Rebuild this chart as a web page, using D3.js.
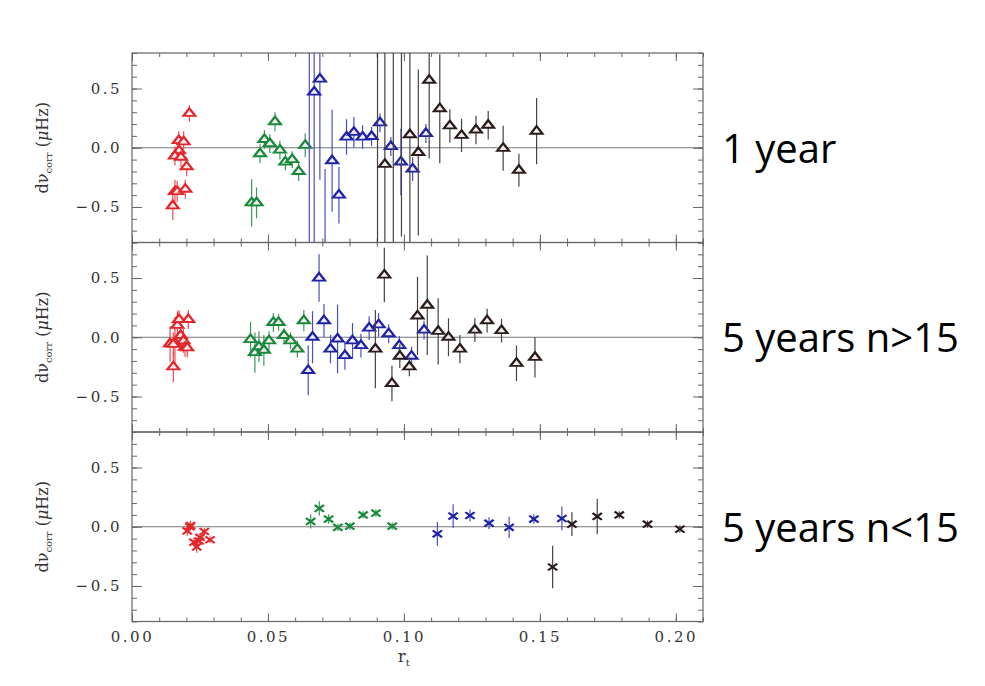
<html>
<head>
<meta charset="utf-8">
<script src="https://d3js.org/d3.v7.min.js"></script>
<style>
  body { margin: 0; background: #fff; }
  .tick text { font-family: "DejaVu Serif", serif; font-size: 15px; fill: #333; letter-spacing: 2.5px; }
  .tick line { stroke: #666; }
  .domain { stroke: none; }
</style>
</head>
<body>
<div id="main"></div>
<script>
// each point: [r_t, d nu_corr, error]
var p1_red = [[0.0150,-0.49,0.12],[0.0158,-0.37,0.10],[0.0166,-0.37,0.09],[0.0196,-0.35,0.08],
  [0.0172,0.06,0.08],[0.0190,0.05,0.09],[0.0173,-0.025,0.08],[0.0158,-0.07,0.08],[0.0180,-0.08,0.08],
  [0.0201,-0.16,0.08],[0.0211,0.29,0.07]];
var p1_green = [[0.0440,-0.465,0.20],[0.0458,-0.465,0.13],[0.0471,-0.05,0.08],[0.0487,0.07,0.08],
  [0.0507,0.035,0.08],[0.0526,0.22,0.08],[0.0544,-0.02,0.08],[0.0564,-0.12,0.07],[0.0589,-0.10,0.07],
  [0.0613,-0.20,0.08],[0.0637,0.02,0.10]];
var p1_blue = [[0.0652,-1.0,2.0],[0.0670,0.47,1.5],[0.0691,0.58,0.85],[0.0710,-1.0,0.82],
  [0.0736,-0.11,0.43],[0.0761,-0.40,0.24],[0.0789,0.09,0.15],[0.0816,0.13,0.13],[0.0848,0.09,0.10],
  [0.0881,0.095,0.08],[0.0912,0.21,0.08],[0.0952,0.01,0.08],[0.0989,-0.12,0.28],[0.1032,-0.18,0.10],
  [0.1081,0.12,0.08]];
var p1_black = [[0.0903,1.0,2.0],[0.0930,-0.14,1.5],[0.0961,-1.0,2.0],[0.0991,1.0,1.75],
  [0.1022,0.11,1.5],[0.1053,-0.04,0.70],[0.1093,0.57,0.66],[0.1132,0.33,0.46],[0.1169,0.185,0.14],
  [0.1212,0.105,0.14],[0.1265,0.15,0.12],[0.1310,0.19,0.12],[0.1365,-0.005,0.19],[0.1423,-0.19,0.14],
  [0.1488,0.14,0.28]];

var p2_red = [[0.0152,-0.25,0.13],[0.0140,-0.055,0.15],[0.0158,-0.05,0.22],[0.0167,0.10,0.12],
  [0.0173,0.15,0.08],[0.0179,0.015,0.10],[0.0189,-0.03,0.10],[0.0195,-0.085,0.08],[0.0203,-0.09,0.08],
  [0.0207,0.15,0.08],[0.0152,-0.06,0.10]];
var p2_green = [[0.0436,-0.02,0.15],[0.0452,-0.13,0.17],[0.0467,-0.08,0.13],[0.0485,-0.11,0.13],
  [0.0504,-0.03,0.08],[0.0520,0.125,0.08],[0.0539,0.125,0.07],[0.0559,0.015,0.06],[0.0583,-0.03,0.07],
  [0.0608,-0.10,0.07],[0.0632,0.14,0.09]];
var p2_blue = [[0.0648,-0.28,0.21],[0.0664,0.0,0.22],[0.0688,0.50,0.20],[0.0706,0.14,0.14],
  [0.0730,-0.10,0.12],[0.0756,-0.015,0.29],[0.0783,-0.155,0.12],[0.0811,-0.03,0.15],[0.0842,-0.07,0.10],
  [0.0872,0.077,0.10],[0.0907,0.105,0.10],[0.0944,0.03,0.08],[0.0983,-0.07,0.08],[0.1028,-0.16,0.08],
  [0.1074,0.06,0.08]];
var p2_black = [[0.0895,-0.10,0.33],[0.0928,0.525,0.23],[0.0956,-0.39,0.15],[0.0985,-0.16,0.10],
  [0.1020,-0.25,0.08],[0.1050,0.18,0.33],[0.1086,0.27,0.42],[0.1126,0.05,0.28],[0.1164,0.0,0.16],
  [0.1206,-0.10,0.12],[0.1261,0.06,0.10],[0.1306,0.14,0.10],[0.1359,0.056,0.10],[0.1414,-0.22,0.15],
  [0.1482,-0.17,0.17]];

var p3_red = [[0.0203,-0.035,0.04],[0.0213,0.0,0.04],[0.0215,0.01,0.04],[0.0228,-0.13,0.04],
  [0.0238,-0.17,0.05],[0.0247,-0.12,0.04],[0.0266,-0.04,0.03],[0.0287,-0.11,0.03],[0.0250,-0.09,0.03]];
var p3_green = [[0.0657,0.045,0.06],[0.0689,0.155,0.06],[0.0723,0.065,0.04],[0.0757,-0.005,0.03],
  [0.0801,0.005,0.03],[0.0850,0.10,0.03],[0.0897,0.115,0.03],[0.0957,0.005,0.03]];
var p3_blue = [[0.1123,-0.06,0.10],[0.1181,0.09,0.10],[0.1243,0.095,0.05],[0.1313,0.03,0.05],
  [0.1387,-0.005,0.09],[0.1478,0.065,0.04],[0.1581,0.07,0.10]];
var p3_black = [[0.1547,-0.34,0.18],[0.1618,0.022,0.10],[0.1711,0.087,0.15],[0.1792,0.10,0.03],
  [0.1896,0.022,0.03],[0.2015,-0.02,0.03]];

var panel_labels = ["1 year", "5 years n>15", "5 years n<15"];
var x_ticks_major = [0, 0.05, 0.10, 0.15, 0.20];
var y_ticks_major = [-0.5, 0, 0.5];

var colors = { red: "#e3262c", green: "#18883a", blue: "#1e22a6", black: "#2a1c1c" };
var bar_colors = { red: "#ee4a4e", green: "#3c9a58", blue: "#4a4ec6", black: "#4a4040" };

var panels = [
  { label: panel_labels[0], marker: "tri", sets: [["red", p1_red], ["green", p1_green], ["blue", p1_blue], ["black", p1_black]] },
  { label: panel_labels[1], marker: "tri", sets: [["red", p2_red], ["green", p2_green], ["blue", p2_blue], ["black", p2_black]] },
  { label: panel_labels[2], marker: "x", sets: [["red", p3_red], ["green", p3_green], ["blue", p3_blue], ["black", p3_black]] }
];

var width = 985, height = 686;
var left = 132, right = 703, top0 = 53, panel_h = 189.5;

var svg = d3.select("#main").append("svg").attr("width", width).attr("height", height);

var x = d3.scaleLinear().domain([0, 0.21]).range([left, right]);
var x_minor = d3.range(0, 0.2101, 0.01);
var y_minor = d3.range(-0.8, 0.801, 0.1).map(function(d) { return Math.round(d * 10) / 10; });

panels.forEach(function(p, i) {
  var ptop = top0 + i * panel_h, pbot = ptop + panel_h;
  var y = d3.scaleLinear().domain([-0.8, 0.8]).range([pbot, ptop]);
  var g = svg.append("g");

  svg.append("clipPath").attr("id", "clip" + i)
    .append("rect").attr("x", left).attr("y", ptop).attr("width", right - left).attr("height", panel_h);

  // zero line
  g.append("line").attr("x1", left).attr("x2", right).attr("y1", y(0)).attr("y2", y(0))
    .attr("stroke", "#777").attr("stroke-width", 1);

  // ticks, inward on all four sides
  g.append("g").attr("transform", "translate(0," + pbot + ")")
    .call(d3.axisBottom(x).tickValues(x_minor).tickSize(-4).tickFormat(""));
  g.append("g").attr("transform", "translate(0," + pbot + ")")
    .call(d3.axisBottom(x).tickValues(x_ticks_major).tickSize(-8).tickPadding(10)
      .tickFormat(i == 2 ? d3.format(".2f") : ""));
  g.append("g").attr("transform", "translate(0," + ptop + ")")
    .call(d3.axisTop(x).tickValues(x_minor).tickSize(-4).tickFormat(""));
  g.append("g").attr("transform", "translate(0," + ptop + ")")
    .call(d3.axisTop(x).tickValues(x_ticks_major).tickSize(-8).tickFormat(""));
  g.append("g").attr("transform", "translate(" + left + ",0)")
    .call(d3.axisLeft(y).tickValues(y_minor).tickSize(-5).tickFormat(""));
  g.append("g").attr("transform", "translate(" + left + ",0)")
    .call(d3.axisLeft(y).tickValues(y_ticks_major).tickSize(-10).tickPadding(10).tickFormat(d3.format(".1f")));
  g.append("g").attr("transform", "translate(" + right + ",0)")
    .call(d3.axisRight(y).tickValues(y_minor).tickSize(-5).tickFormat(""));
  g.append("g").attr("transform", "translate(" + right + ",0)")
    .call(d3.axisRight(y).tickValues(y_ticks_major).tickSize(-10).tickFormat(""));

  g.append("rect").attr("x", left).attr("y", ptop).attr("width", right - left).attr("height", panel_h)
    .attr("fill", "none").attr("stroke", "#666").attr("stroke-width", 1.2);

  var data_g = g.append("g").attr("clip-path", "url(#clip" + i + ")");
  p.sets.forEach(function(s) {
    var col = s[0], pts = s[1];
    data_g.selectAll(null).data(pts).enter().append("line")
      .attr("x1", function(d) { return x(d[0]); }).attr("x2", function(d) { return x(d[0]); })
      .attr("y1", function(d) { return y(d[1] - d[2]); }).attr("y2", function(d) { return y(d[1] + d[2]); })
      .attr("stroke", bar_colors[col]).attr("stroke-width", 1.2);
    var sym = p.marker == "tri" ? d3.symbol().type(d3.symbolTriangle).size(46)
                                : d3.symbol().type(d3.symbolTimes).size(44);
    data_g.selectAll(null).data(pts).enter().append("path")
      .attr("d", sym)
      .attr("transform", function(d) { return "translate(" + x(d[0]) + "," + y(d[1]) + ") scale(1.15,0.85)"; })
      .attr("fill", p.marker == "tri" ? "#f2ecec" : "none")
      .attr("stroke", colors[col]).attr("stroke-width", 2.2);
  });

  // y title
  var yt = svg.append("text")
    .attr("transform", "translate(48," + y(0) + ") rotate(-90)")
    .attr("text-anchor", "middle")
    .style("font-family", "'DejaVu Serif', serif").style("font-size", "16px").attr("fill", "#333");
  yt.append("tspan").text("d\u03BD");
  yt.append("tspan").attr("dy", 4).style("font-size", "10px").text("corr");
  yt.append("tspan").attr("dy", -4).text(" (");
  yt.append("tspan").style("font-style", "italic").text("\u03BC");
  yt.append("tspan").text("Hz)");

  // right side label
  svg.append("text").attr("x", 722).attr("y", y(0) + 15)
    .style("font-family", "'Open Sans', sans-serif").style("font-size", "40px")
    .attr("fill", "#000").text(p.label);
});

// x title
var xt = svg.append("text").attr("x", x(0.1)).attr("y", 662).attr("text-anchor", "middle")
  .style("font-family", "'DejaVu Serif', serif").style("font-size", "16px").attr("fill", "#333");
xt.append("tspan").text("r");
xt.append("tspan").attr("dy", 4).style("font-size", "10px").text("t");
</script>
</body>
</html>
